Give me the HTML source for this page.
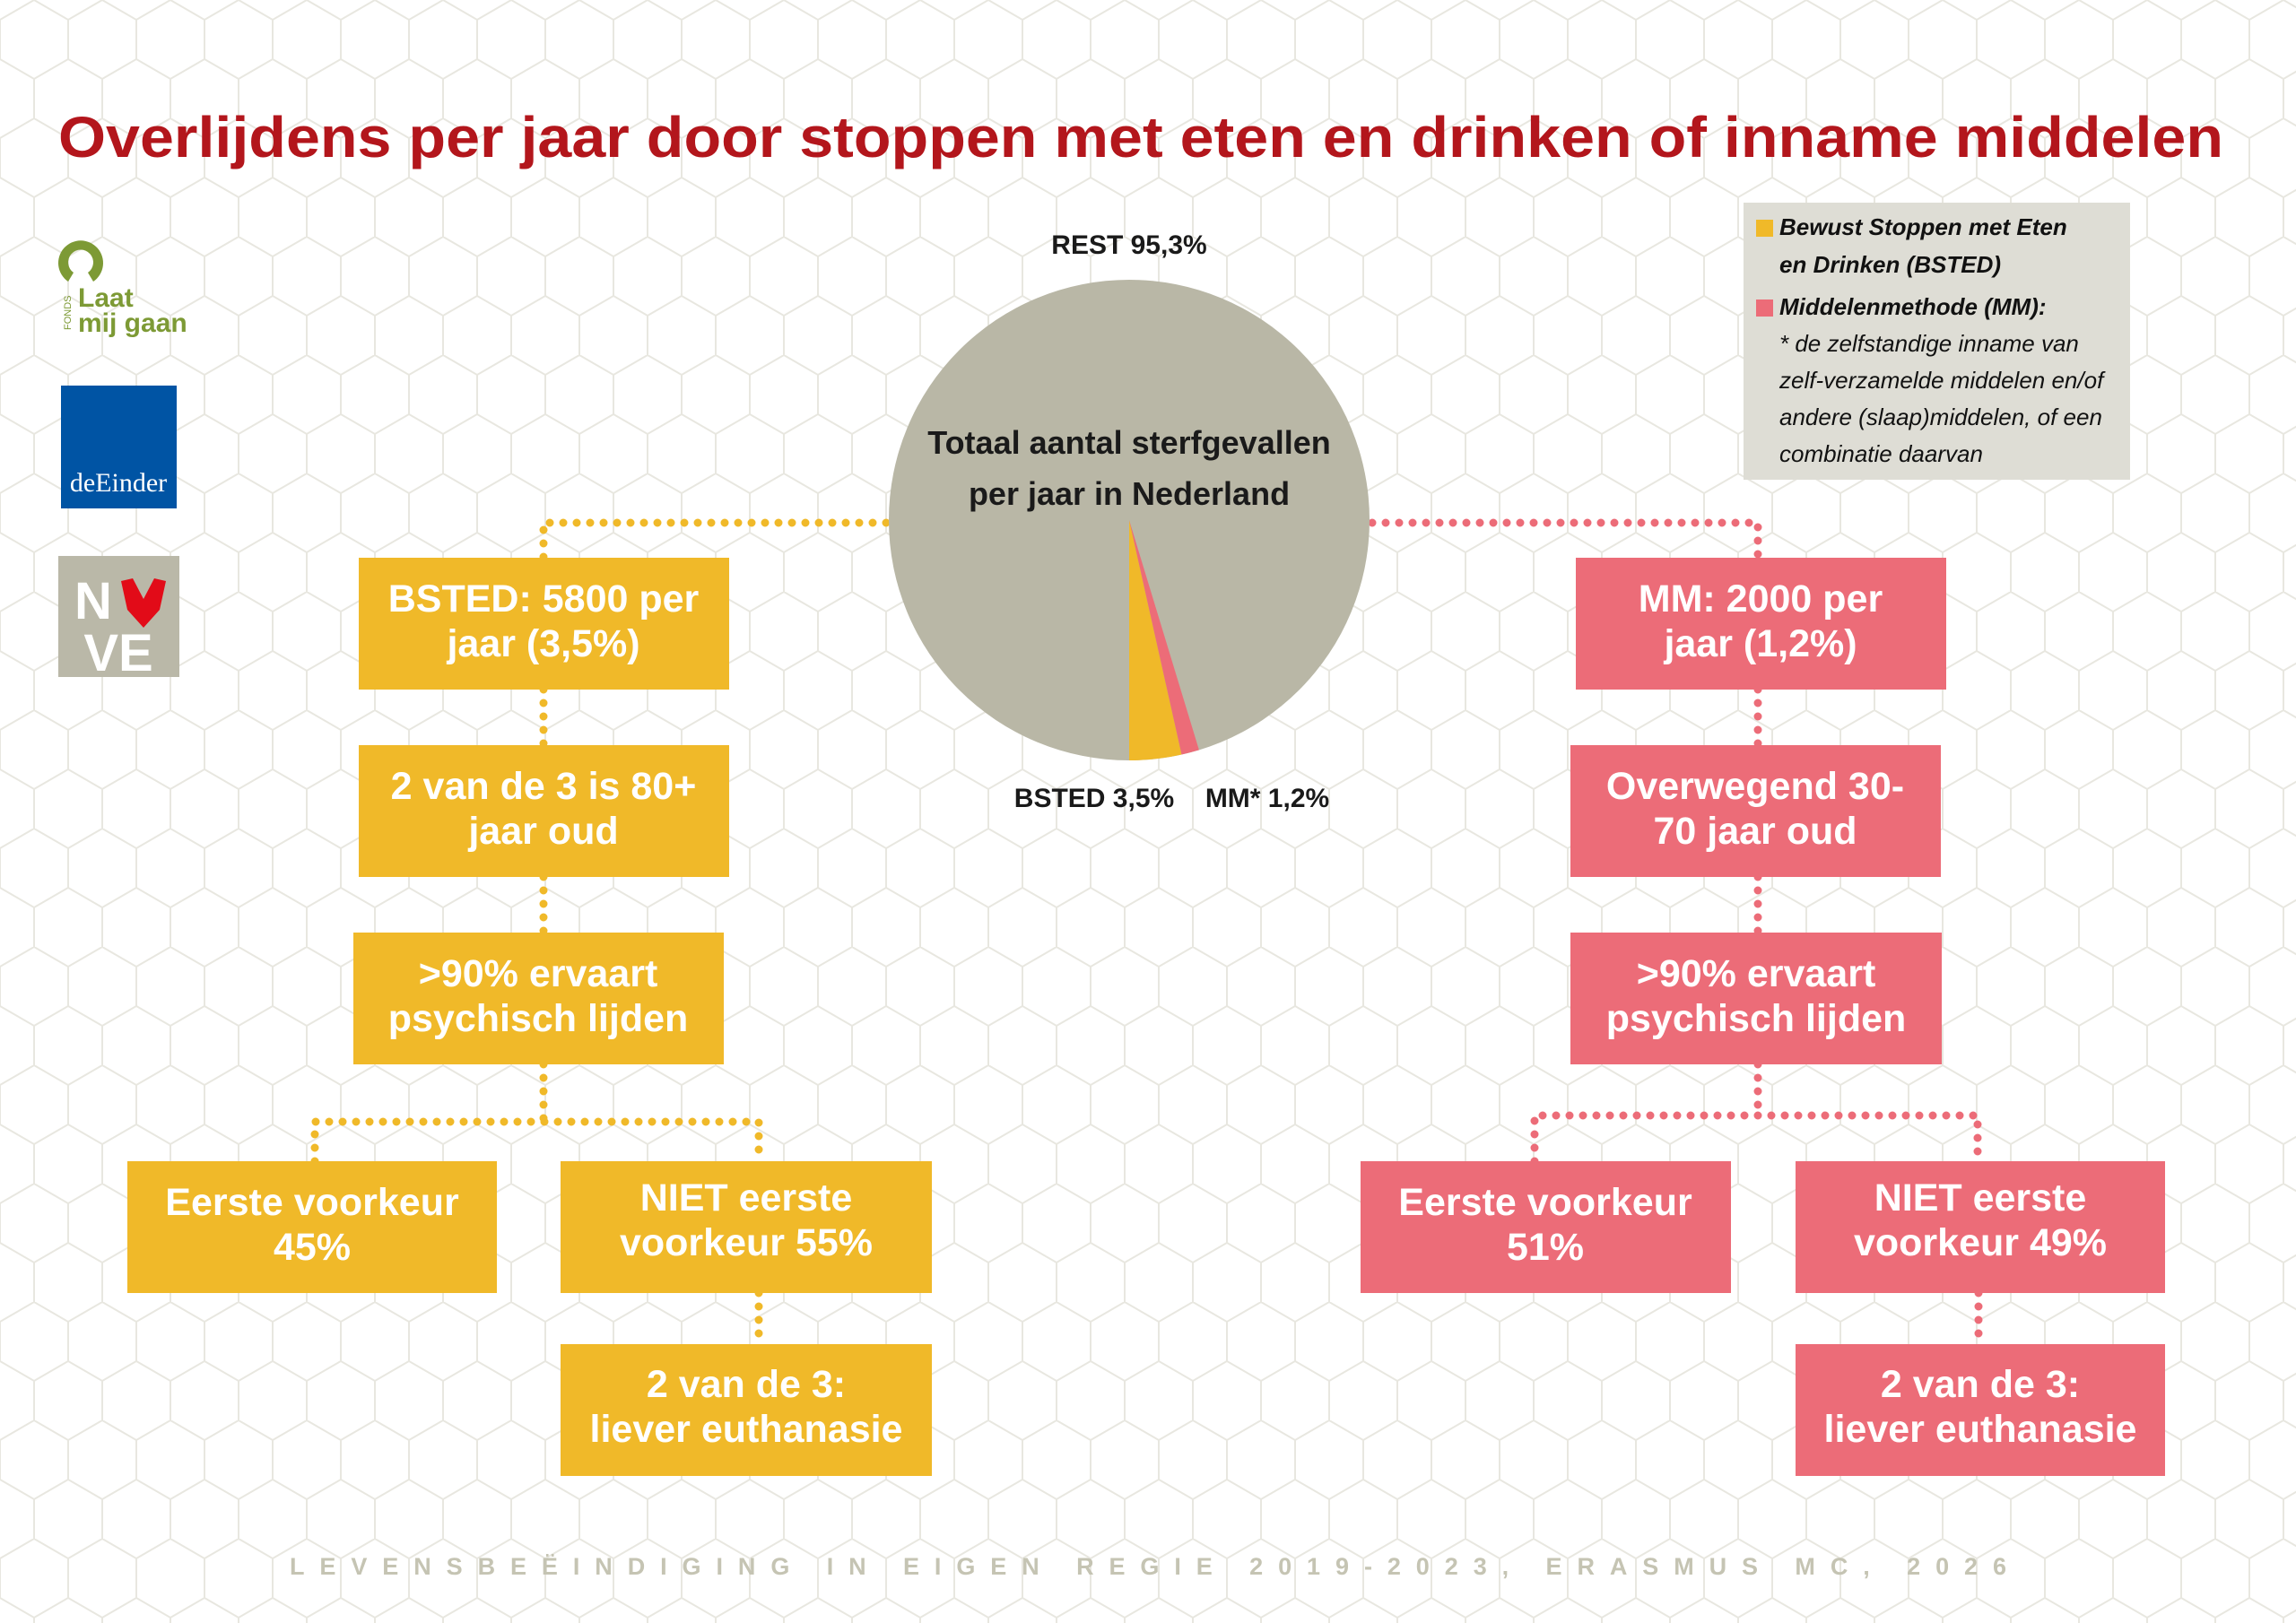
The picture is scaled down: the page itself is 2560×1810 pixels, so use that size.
<!DOCTYPE html>
<html><head><meta charset="utf-8"><style>
html,body{margin:0;padding:0;background:#fff;}
svg{display:block}
</style></head><body>
<svg width="2560" height="1810" viewBox="0 0 2560 1810" xmlns="http://www.w3.org/2000/svg" font-family="'Liberation Sans', sans-serif">
<defs>
<pattern id="hex" width="76" height="132" patternUnits="userSpaceOnUse" x="0" y="0">
<path d="M38 0 L76 22 L76 66 L38 88 L0 66 L0 22 Z M38 88 V132" fill="none" stroke="#e8e7e0" stroke-width="2"/>
</pattern>
</defs>
<rect width="2560" height="1810" fill="#fff"/>
<rect width="2560" height="1810" fill="url(#hex)"/>

<text x="65" y="175" font-size="64" font-weight="bold" fill="#b3161c" textLength="2414" lengthAdjust="spacingAndGlyphs">Overlijdens per jaar door stoppen met eten en drinken of inname middelen</text>

<!-- logos -->
<g>
<path d="M76 314 A25 25 0 1 1 104 314 L98 304 A14 14 0 1 0 82 304 Z" fill="#7d9a35"/>
<text x="87" y="342" font-size="30" font-weight="bold" fill="#7d9a35">Laat</text>
<text x="87" y="370" font-size="30" font-weight="bold" fill="#7d9a35">mij gaan</text>
<text transform="translate(79,368) rotate(-90)" font-size="11" fill="#7d9a35">FONDS</text>
<rect x="68" y="430" width="129" height="137" fill="#0054a4"/>
<text x="132" y="548" font-size="30" fill="#fff" text-anchor="middle" font-family="'Liberation Serif', serif">deEinder</text>
<rect x="65" y="620" width="135" height="135" fill="#bab8a8"/>
<text x="104" y="690" font-size="58" font-weight="bold" fill="#fff" text-anchor="middle">N</text>
<path d="M135 648 L148 645 L160 668 L172 645 L185 648 L178 680 L160 700 L142 680 Z" fill="#e20b18"/>
<text x="132" y="748" font-size="58" font-weight="bold" fill="#fff" text-anchor="middle">VE</text>
</g>

<!-- legend -->
<rect x="1944" y="226" width="431" height="309" fill="#deddd5"/>
<rect x="1958" y="245" width="19" height="19" fill="#f0b929"/>
<rect x="1958" y="334" width="19" height="19" fill="#ec6c78"/>
<g font-size="26" font-style="italic" fill="#111">
<text x="1984" y="262" font-weight="bold">Bewust Stoppen met Eten</text>
<text x="1984" y="304" font-weight="bold">en Drinken (BSTED)</text>
<text x="1984" y="351" font-weight="bold">Middelenmethode (MM):</text>
<text x="1984" y="392">* de zelfstandige inname van</text>
<text x="1984" y="433">zelf-verzamelde middelen en/of</text>
<text x="1984" y="474">andere (slaap)middelen, of een</text>
<text x="1984" y="515">combinatie daarvan</text>
</g>

<!-- dotted connectors -->
<g fill="none" stroke-linecap="round" stroke-width="9" stroke-dasharray="0 15">
<g stroke="#f0b929">
<path d="M988 583 H606 V622"/>
<path d="M606 769 V831"/>
<path d="M606 978 V1040"/>
<path d="M606 1187 V1251"/>
<path d="M351 1295 V1251 H846 V1295"/>
<path d="M846 1442 V1499"/>
</g>
<g stroke="#ec6c78">
<path d="M1530 583 H1960 V622"/>
<path d="M1960 769 V831"/>
<path d="M1960 978 V1040"/>
<path d="M1960 1187 V1244"/>
<path d="M1711 1295 V1244 H2205 V1295"/>
<path d="M2206 1442 V1499"/>
</g>
</g>

<!-- pie -->
<circle cx="1259" cy="580" r="268" fill="#b9b7a6"/>
<path d="M1259 580 L1259 848 A268 268 0 0 0 1317.5 841.5 Z" fill="#f0b929"/>
<path d="M1259 580 L1317.5 841.5 A268 268 0 0 0 1336.9 836.4 Z" fill="#ec6c78"/>
<g font-weight="bold" fill="#1a1a1a" text-anchor="middle">
<text x="1259" y="506" font-size="36">Totaal aantal sterfgevallen</text>
<text x="1259" y="563" font-size="36">per jaar in Nederland</text>
<text x="1259" y="283" font-size="30">REST 95,3%</text>
<text x="1220" y="900" font-size="30">BSTED 3,5%</text>
<text x="1413" y="900" font-size="30">MM* 1,2%</text>
</g>

<!-- boxes -->
<g fill="#f0b929">
<rect x="400" y="622" width="413" height="147"/>
<rect x="400" y="831" width="413" height="147"/>
<rect x="394" y="1040" width="413" height="147"/>
<rect x="142" y="1295" width="412" height="147"/>
<rect x="625" y="1295" width="414" height="147"/>
<rect x="625" y="1499" width="414" height="147"/>
</g>
<g fill="#ec6c78">
<rect x="1757" y="622" width="413" height="147"/>
<rect x="1751" y="831" width="413" height="147"/>
<rect x="1751" y="1040" width="414" height="147"/>
<rect x="1517" y="1295" width="413" height="147"/>
<rect x="2002" y="1295" width="412" height="147"/>
<rect x="2002" y="1499" width="412" height="147"/>
</g>
<g font-size="43" font-weight="bold" fill="#fff" text-anchor="middle">
<text x="606" y="682">BSTED: 5800 per</text><text x="606" y="732">jaar (3,5%)</text>
<text x="606" y="891">2 van de 3 is 80+</text><text x="606" y="941">jaar oud</text>
<text x="600" y="1100">&gt;90% ervaart</text><text x="600" y="1150">psychisch lijden</text>
<text x="348" y="1355">Eerste voorkeur</text><text x="348" y="1405">45%</text>
<text x="832" y="1350">NIET eerste</text><text x="832" y="1400">voorkeur 55%</text>
<text x="832" y="1558">2 van de 3:</text><text x="832" y="1608">liever euthanasie</text>
<text x="1963" y="682">MM: 2000 per</text><text x="1963" y="732">jaar (1,2%)</text>
<text x="1957" y="891">Overwegend 30-</text><text x="1957" y="941">70 jaar oud</text>
<text x="1958" y="1100">&gt;90% ervaart</text><text x="1958" y="1150">psychisch lijden</text>
<text x="1723" y="1355">Eerste voorkeur</text><text x="1723" y="1405">51%</text>
<text x="2208" y="1350">NIET eerste</text><text x="2208" y="1400">voorkeur 49%</text>
<text x="2208" y="1558">2 van de 3:</text><text x="2208" y="1608">liever euthanasie</text>
</g>

<text x="323" y="1756" font-size="27" font-weight="bold" fill="#c5c4b3" textLength="1914" lengthAdjust="spacing">LEVENSBEËINDIGING IN EIGEN REGIE 2019-2023, ERASMUS MC, 2026</text>
</svg>
</body></html>
